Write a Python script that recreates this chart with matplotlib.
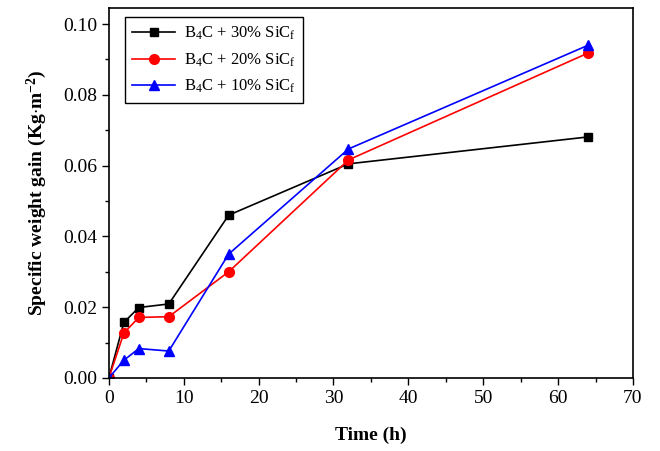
import matplotlib.pyplot as plt
import numpy as np

plt.rcParams['font.family'] = 'Liberation Serif'
plt.rcParams['mathtext.fontset'] = 'custom'
plt.rcParams['mathtext.rm'] = 'Liberation Serif'
plt.rcParams['mathtext.it'] = 'Liberation Serif:italic'
plt.rcParams['mathtext.bf'] = 'Liberation Serif:bold'

# Data
time_h = [0, 2, 4, 8, 16, 32, 64]
gain_30 = [0.0, 0.0157, 0.0199, 0.0209, 0.0460, 0.0605, 0.0681]
gain_20 = [0.0, 0.0127, 0.0171, 0.0173, 0.0300, 0.0616, 0.0918]
gain_10 = [0.0, 0.0050, 0.0083, 0.0076, 0.0350, 0.0647, 0.0940]
labels = ['B$_4$C + 30% SiC$_\\mathrm{f}$',
          'B$_4$C + 20% SiC$_\\mathrm{f}$',
          'B$_4$C + 10% SiC$_\\mathrm{f}$']

fig = plt.figure(figsize=(6.6, 4.51), dpi=100)
ax = fig.add_axes([0.165, 0.162, 0.794, 0.82])

ax.plot(time_h, gain_30, color='black', marker='s', ms=6, lw=1.2, label=labels[0])
ax.plot(time_h, gain_20, color='red', marker='o', ms=7, lw=1.2, label=labels[1])
ax.plot(time_h, gain_10, color='blue', marker='^', ms=7, lw=1.2, label=labels[2])

ax.set_xlim(0, 70)
ax.set_ylim(0, 0.1045)
ax.set_xticks(np.arange(0, 71, 10))
ax.set_yticks(np.arange(0, 0.101, 0.02))
ax.set_xticks(np.arange(5, 70, 10), minor=True)
ax.set_yticks(np.arange(0.01, 0.1, 0.02), minor=True)
ax.yaxis.set_major_formatter(plt.FormatStrFormatter('%.2f'))
ax.tick_params(which='major', direction='out', length=5, width=1, labelsize=14)
ax.tick_params(which='minor', direction='out', length=3, width=1)
for s in ax.spines.values():
    s.set_linewidth(1.2)

ax.set_xlabel('Time (h)', fontsize=14, fontweight='bold', labelpad=14)
ax.set_ylabel('Specific weight gain (Kg$\\cdot$m$^{\\mathbf{-2}}$)', fontsize=14,
              fontweight='bold', labelpad=10)

leg = ax.legend(loc='upper left', bbox_to_anchor=(0.03, 0.975), fontsize=12,
                fancybox=False, edgecolor='black', framealpha=1,
                handlelength=2.6, handletextpad=0.5, borderpad=0.45,
                labelspacing=0.55, borderaxespad=0)
leg.get_frame().set_linewidth(1.0)

fig.savefig('out.png', dpi=100)
